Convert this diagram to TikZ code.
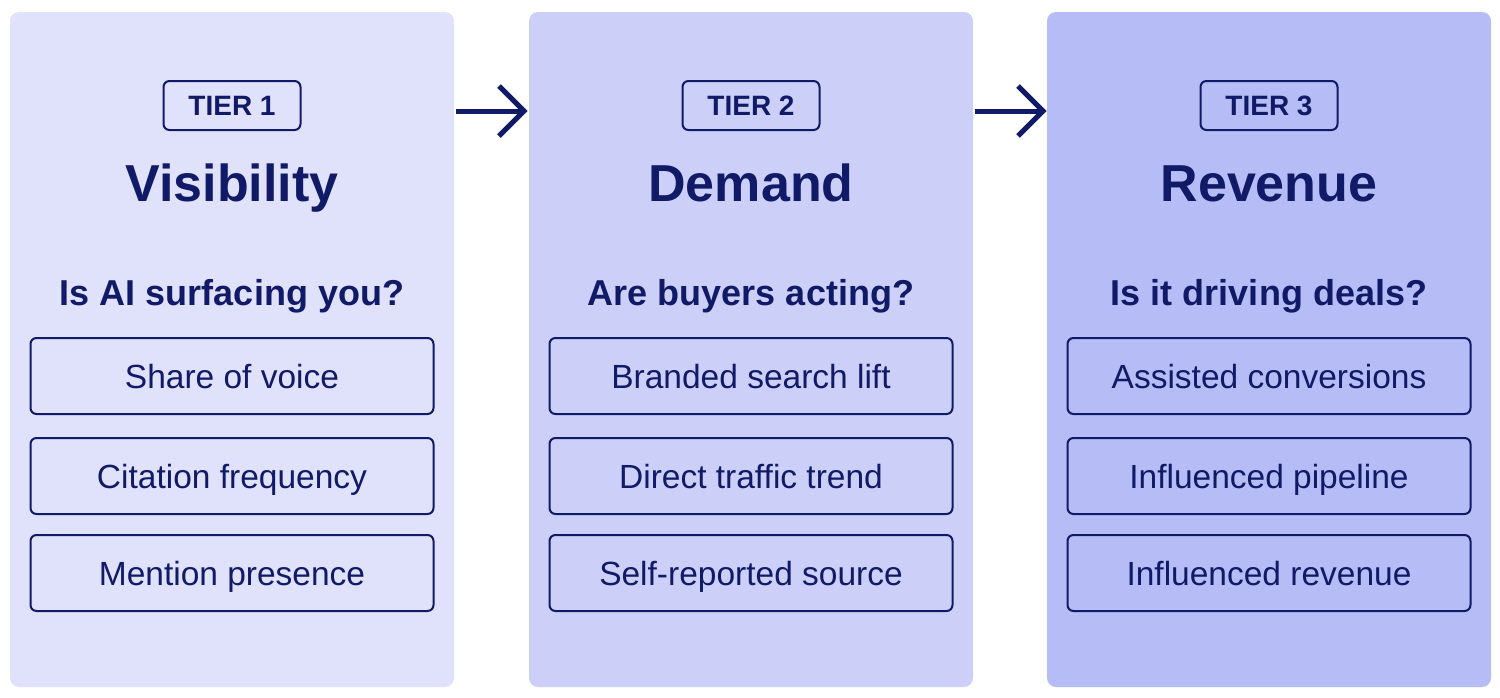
\documentclass[tikz,border=0pt]{standalone}
\usepackage{fontspec}
\setmainfont{Liberation Sans}
\usetikzlibrary{arrows.meta}
\definecolor{navy}{HTML}{101A66}
\definecolor{pone}{HTML}{E0E1FB}
\definecolor{ptwo}{HTML}{CCD0F8}
\definecolor{pthree}{HTML}{B6BCF5}
\tikzset{
  panel/.style={fill=#1, draw=none, rounded corners=9pt, minimum width=444pt, minimum height=675pt, inner sep=0pt},
  badge/.style={draw=navy, line width=2pt, rounded corners=6pt, minimum width=137pt, minimum height=49pt, inner sep=0pt, text height=20pt, text depth=0pt, font=\fontsize{28}{32}\selectfont\bfseries, text=navy},
  title/.style={anchor=base, text=navy, inner sep=0pt, font=\fontsize{52}{60}\selectfont\bfseries},
  question/.style={anchor=base, text=navy, inner sep=0pt, font=\fontsize{36}{40}\selectfont\bfseries},
  metric/.style={draw=navy, line width=2pt, rounded corners=6pt, minimum width=403pt, minimum height=76pt, inner sep=0pt, text height=24pt, text depth=0pt, font=\fontsize{33.5}{38}\selectfont, text=navy},
  flow/.style={draw=navy, line width=5pt},
}
\begin{document}
\begin{tikzpicture}[x=1pt,y=-1pt]
\useasboundingbox (0,0) rectangle (1500,697);
\fill[white] (0,0) rectangle (1500,697);
% panels
\node[panel=pone] (p1) at (232,349.5) {};
\node[panel=ptwo] (p2) at (751,349.5) {};
\node[panel=pthree] (p3) at (1269,349.5) {};
% tier 1
\node[badge] (b1) at (232,105.5) {TIER 1};
\node[title] (t1) at (232,201) {Visibility};
\node[question] (q1) at (232,305) {Is AI surfacing you?};
\node[metric] (m11) at (232,376) {Share of voice};
\node[metric] (m12) at (232,476) {Citation frequency};
\node[metric] (m13) at (232,573) {Mention presence};
% tier 2
\node[badge] (b2) at (751,105.5) {TIER 2};
\node[title] (t2) at (751,201) {Demand};
\node[question] (q2) at (751,305) {Are buyers acting?};
\node[metric] (m21) at (751,376) {Branded search lift};
\node[metric] (m22) at (751,476) {Direct traffic trend};
\node[metric] (m23) at (751,573) {Self-reported source};
% tier 3
\node[badge] (b3) at (1269,105.5) {TIER 3};
\node[title] (t3) at (1269,201) {Revenue};
\node[question] (q3) at (1269,305) {Is it driving deals?};
\node[metric] (m31) at (1269,376) {Assisted conversions};
\node[metric] (m32) at (1269,476) {Influenced pipeline};
\node[metric] (m33) at (1269,573) {Influenced revenue};
% arrows
\coordinate (a1s) at (456,111);
\coordinate (a1e) at (524,111);
\coordinate (a2s) at (975,111);
\coordinate (a2e) at (1043,111);
\draw[flow] (a1s) -- (a1e);
\draw[flow, line join=miter] ([shift={(-25,-25)}]a1e) -- (a1e) -- ([shift={(-25,25)}]a1e);
\draw[flow] (a2s) -- (a2e);
\draw[flow, line join=miter] ([shift={(-25,-25)}]a2e) -- (a2e) -- ([shift={(-25,25)}]a2e);
\end{tikzpicture}
\end{document}
